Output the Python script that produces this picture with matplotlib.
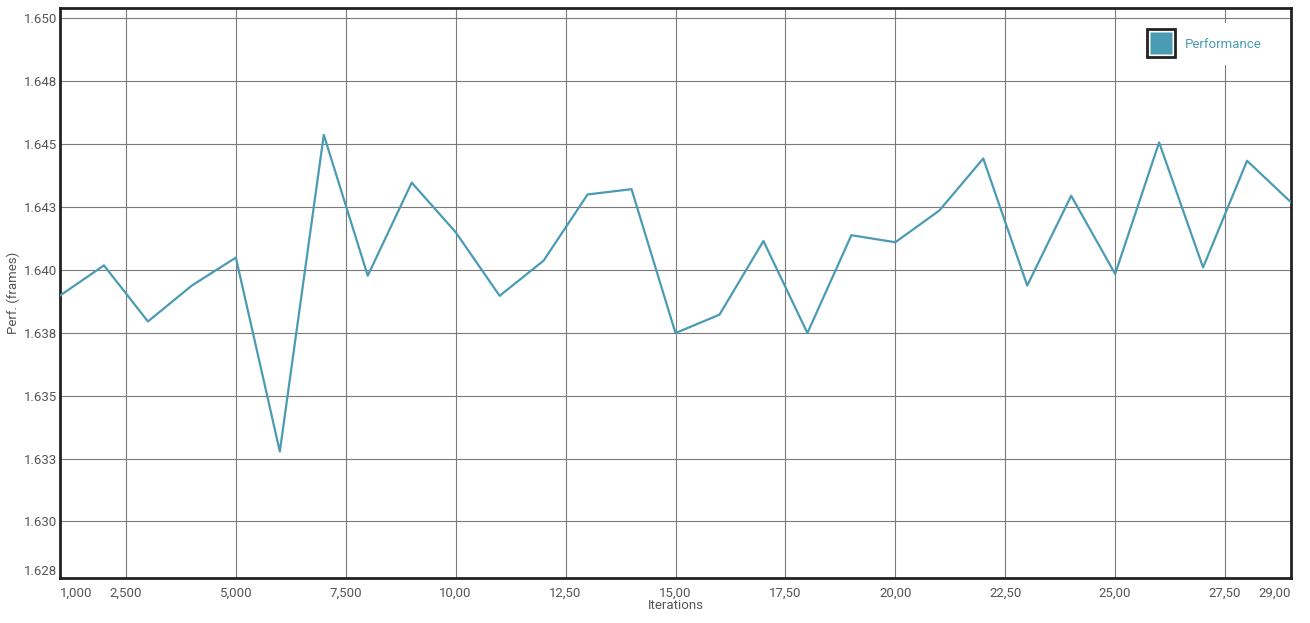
import matplotlib
matplotlib.use("Agg")
import matplotlib.pyplot as plt
from matplotlib.lines import Line2D

plt.rcParams['font.family'] = ['Roboto', 'DejaVu Sans']

# data
iterations = [1000, 2000, 3000, 4000, 5000, 6000, 7000, 8000, 9000, 10000,
              11000, 12000, 13000, 14000, 15000, 16000, 17000, 18000, 19000, 20000,
              21000, 22000, 23000, 24000, 25000, 26000, 27000, 28000, 29000]
performance = [1.63898, 1.64018, 1.63795, 1.63938, 1.64049, 1.63278, 1.64537, 1.63977, 1.64347, 1.64150,
               1.63897, 1.64037, 1.64300, 1.64321, 1.63749, 1.63822, 1.64115, 1.63749, 1.64138, 1.64110,
               1.64236, 1.64443, 1.63938, 1.64295, 1.63984, 1.64507, 1.64010, 1.64434, 1.64269]

x_ticks = [1000, 2500, 5000, 7500, 10000, 12500, 15000, 17500, 20000, 22500, 25000, 27500, 29000]
x_labels = ["1,000", "2,500", "5,000", "7,500", "10,00", "12,50", "15,00", "17,50",
            "20,00", "22,50", "25,00", "27,50", "29,00"]
y_ticks = [1.62775, 1.630, 1.6325, 1.635, 1.6375, 1.640, 1.6425, 1.645, 1.6475, 1.650]
y_labels = ["1.628", "1.630", "1.633", "1.635", "1.638", "1.640", "1.643", "1.645", "1.648", "1.650"]

LINE = '#4a9bb3'
GRID = '#7a7a7a'
TXT = '#555555'


def main():
    fig = plt.figure(figsize=(13.1, 6.23), dpi=100)
    ax = fig.add_axes([0.0458, 0.0722, 0.9397, 0.9148])

    ax.plot(iterations, performance, color=LINE, lw=1.6, zorder=3)

    ax.set_xlim(1000, 29000)
    ax.set_ylim(1.62775, 1.65041)

    ax.set_xticks(x_ticks)
    ax.set_xticklabels(x_labels)
    ax.set_yticks(y_ticks)
    ax.set_yticklabels(y_labels)
    ax.tick_params(length=0, labelsize=9.5, labelcolor=TXT)
    ax.tick_params(axis='x', pad=6)
    ax.tick_params(axis='y', pad=2)

    # keep edge labels inside like the original
    xl = ax.get_xticklabels()
    xl[0].set_ha('left')
    xl[-1].set_ha('right')
    yl = ax.get_yticklabels()
    yl[0].set_va('bottom')

    ax.grid(True, color=GRID, lw=0.8, zorder=1)
    ax.set_axisbelow(True)
    ax.yaxis.get_gridlines()[0].set_visible(False)

    for s in ax.spines.values():
        s.set_color('#222222')
        s.set_linewidth(2)

    ax.set_xlabel("Iterations", fontsize=9.5, color=TXT, labelpad=0)
    ax.set_ylabel("Perf. (frames)", fontsize=9.5, color=TXT)
    # the original draws the y title over the tick label column
    ax.yaxis.set_label_coords(-0.0325, 0.5)

    outer = Line2D([], [], ls='none', marker='s', ms=20, mfc='white', mec='#222222', mew=2)
    inner = Line2D([], [], ls='none', marker='s', ms=15.5, mfc=LINE, mec='none')
    leg = ax.legend([(outer, inner)], ["Performance"], loc='upper right',
                    bbox_to_anchor=(0.988, 0.9735), borderaxespad=0,
                    frameon=True, fancybox=False, facecolor='white', edgecolor='none',
                    framealpha=1, fontsize=9.5, labelcolor=LINE,
                    handlelength=2.2, handletextpad=0.7, borderpad=1.1)
    leg.set_zorder(5)

    fig.savefig("out.png", dpi=100)


if __name__ == "__main__":
    main()
